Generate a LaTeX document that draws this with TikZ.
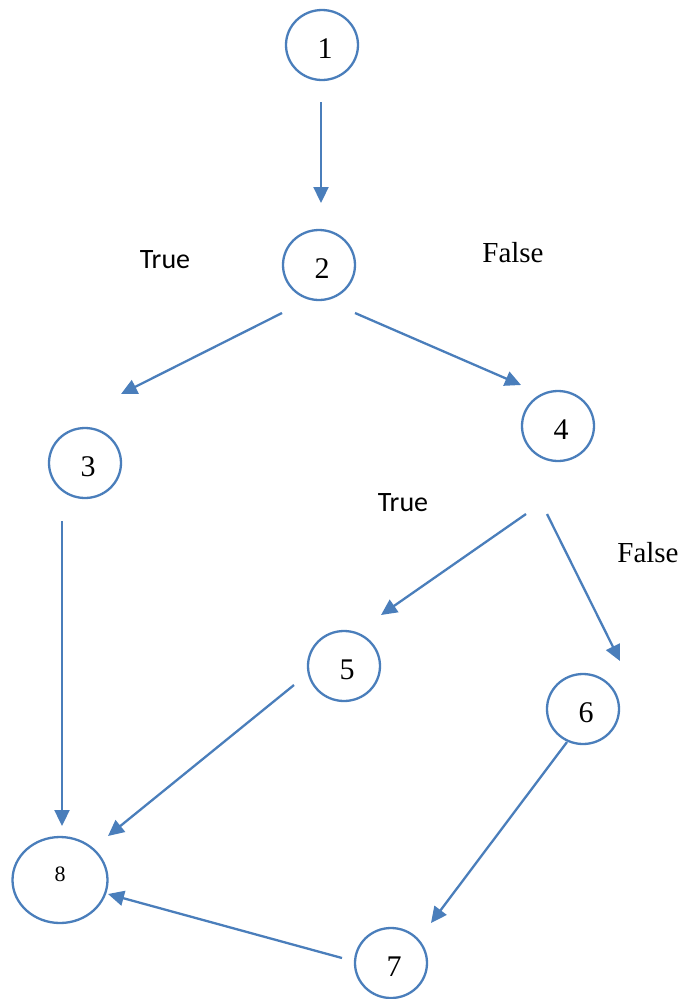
\documentclass[tikz,border=0pt]{standalone}
\usepackage{fontspec}
\setmainfont{Liberation Serif}
\newfontfamily\labelsans{Carlito}
\usetikzlibrary{shapes.geometric,arrows.meta}
\definecolor{flowblue}{RGB}{74,126,187}
\tikzset{
  state/.style={ellipse, draw=flowblue, line width=2.3pt, inner sep=0pt,
    minimum width=72pt, minimum height=70pt,
    label={[font=\fontsize{30}{30}\selectfont, xshift=3pt, yshift=-4pt]center:#1}},
  flow/.style={draw=flowblue, line width=2.3pt,
    -{Triangle[length=16pt,width=15pt]}},
  truelbl/.style={font=\labelsans\fontsize{28}{28}\selectfont, inner sep=0pt},
  falselbl/.style={font=\fontsize{29}{29}\selectfont, inner sep=0pt}
}
\begin{document}
\begin{tikzpicture}[x=1pt,y=-1pt]
\useasboundingbox (0,0) rectangle (684,999);

% states of the flow graph
\node[state=1] (n1) at (322,45) {};
\node[state=2] (n2) at (319,265) {};
\node[state=3] (n3) at (85,463) {};
\node[state=4] (n4) at (558,426) {};
\node[state=5] (n5) at (344,666) {};
\node[state=6] (n6) at (583,709) {};
\node[state=7] (n7) at (391,963) {};
\node[ellipse, draw=flowblue, line width=2.3pt, inner sep=0pt,
      minimum width=95pt, minimum height=86pt,
      label={[font=\fontsize{22}{22}\selectfont, yshift=6pt]center:8}] (n8) at (60,880) {};

% branch labels
\node[truelbl]  (t2) at (165,260) {True};
\node[falselbl] (f2) at (513,253) {False};
\node[truelbl]  (t4) at (403,503) {True};
\node[falselbl] (f4) at (648,553) {False};

% arrow end points
\coordinate (a12s) at (321,102);  \coordinate (a12e) at (321,203);
\coordinate (a23s) at (282,313);  \coordinate (a23e) at (121,394);
\coordinate (a24s) at (355,313);  \coordinate (a24e) at (521,385);
\coordinate (a38s) at (62,521);   \coordinate (a38e) at (62,826);
\coordinate (a45s) at (526,514);  \coordinate (a45e) at (381,615);
\coordinate (a46s) at (547,514);  \coordinate (a46e) at (620,661);
\coordinate (a58s) at (294,685);  \coordinate (a58e) at (108,836);
\coordinate (a67s) at (567,742);  \coordinate (a67e) at (431,923);
\coordinate (a78s) at (342,958);  \coordinate (a78e) at (108,894);

% edges
\draw[flow] (a12s) -- (a12e);
\draw[flow] (a23s) -- (a23e);
\draw[flow] (a24s) -- (a24e);
\draw[flow] (a38s) -- (a38e);
\draw[flow] (a45s) -- (a45e);
\draw[flow] (a46s) -- (a46e);
\draw[flow] (a58s) -- (a58e);
\draw[flow] (a67s) -- (a67e);
\draw[flow] (a78s) -- (a78e);
\end{tikzpicture}
\end{document}
